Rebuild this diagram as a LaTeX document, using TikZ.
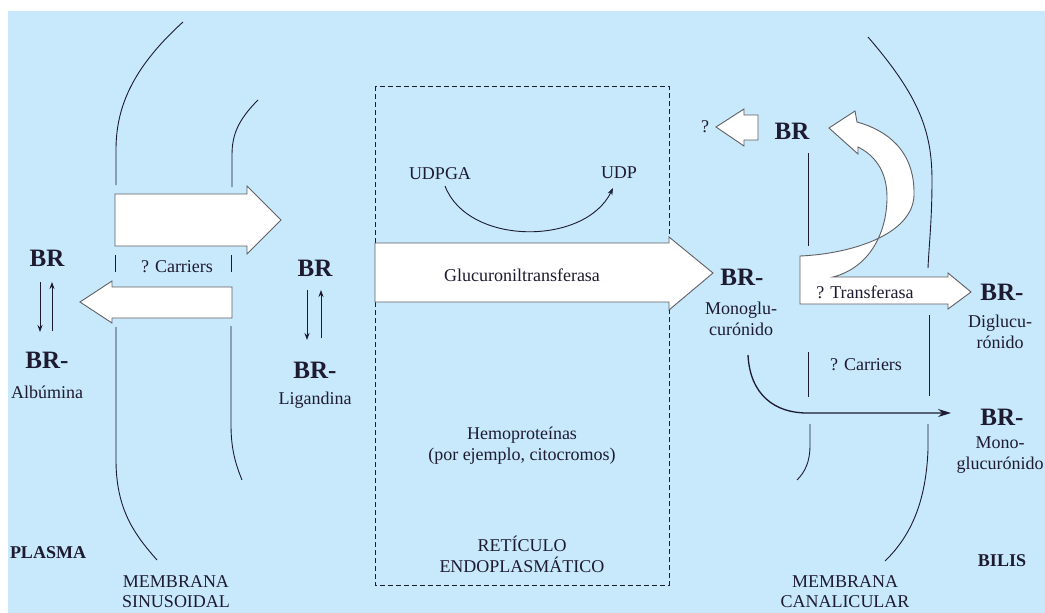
\documentclass[tikz,border=0pt]{standalone}
\usepackage{fontspec}
\setmainfont{Liberation Serif}
\usetikzlibrary{arrows.meta}
\definecolor{bg}{RGB}{199,233,251}
\definecolor{ink}{RGB}{30,26,48}
\definecolor{edge}{RGB}{95,95,100}
\begin{document}
\begin{tikzpicture}[x=1pt,y=-1pt,
  every node/.style={text=ink, inner sep=0pt},
  small/.style={font=\fontsize{18}{21}\selectfont, align=center},
  bottomlbl/.style={font=\fontsize{18}{20}\selectfont, align=center},
  big/.style={font=\fontsize{25}{27}\selectfont\bfseries},
  lbl/.style={font=\fontsize{18}{21}\selectfont\bfseries},
  membr/.style={draw=ink, line width=0.9pt},
  blockarrow/.style={draw=edge, fill=white, line width=0.9pt, line join=miter},
  thinarrow/.style={draw=ink, line width=0.9pt, -{Stealth[length=7pt,width=5pt]}},
  longarrow/.style={draw=ink, line width=1.3pt, -{Stealth[length=13pt,width=8pt]}}]
\useasboundingbox (0,0) rectangle (1045,613);
\fill[bg] (8,11) rectangle (1045,613);

% ---------- sinusoidal membrane ----------
\draw[membr] (183,22) .. controls (130,70) and (116,110) .. (116,150) -- (116,185);
\draw[membr] (258,100) .. controls (238,120) and (232,135) .. (232,155) -- (232,187);
\draw[membr] (115,255) -- (115,272);
\draw[membr] (231,255) -- (231,272);
\draw[membr] (116,327) -- (116,460) .. controls (116,510) and (135,535) .. (157,560);
\draw[membr] (231,326) -- (231,425) .. controls (231,450) and (236,465) .. (242,480);

\draw[blockarrow] (115,194) -- (247,194) -- (247,186) -- (281,220) -- (247,254) -- (247,246) -- (115,246) -- cycle;
\draw[blockarrow] (232,287) -- (112,287) -- (112,281) -- (80,302) -- (112,323) -- (112,318) -- (232,318) -- cycle;
\node[small] (carrL) at (177,267) {? Carriers};

% ---------- plasma side ----------
\node[big] (brL) at (47,258) {BR};
\node[big] (brLm) at (47,360) {BR-};
\node[small] (alb) at (47,392) {Albúmina};
\coordinate (aL1) at (40,282); \coordinate (aL2) at (40,332);
\coordinate (aL3) at (52,331); \coordinate (aL4) at (52,282);
\draw[thinarrow] (aL1) -- (aL2);
\draw[thinarrow] (aL3) -- (aL4);
\node[lbl] (plasma) at (48,553) {PLASMA};
\node[bottomlbl] (msin) at (176,592) {MEMBRANA\\SINUSOIDAL};

% ---------- ligandina ----------
\node[big] (brM) at (315,268) {BR};
\node[big] (brMm) at (315,370) {BR-};
\node[small] (lig) at (315,400) {Ligandina};
\coordinate (aM1) at (307,290); \coordinate (aM2) at (307,340);
\coordinate (aM3) at (321,338); \coordinate (aM4) at (321,290);
\draw[thinarrow] (aM1) -- (aM2);
\draw[thinarrow] (aM3) -- (aM4);

% ---------- reticulo endoplasmatico ----------
\draw[ink, line width=0.9pt, dash pattern=on 5pt off 3pt] (375,86) rectangle (669,585);
\node[small] (udpga) at (440,174) {UDPGA};
\node[small] (udp) at (619,173) {UDP};
\coordinate (uA) at (445,186); \coordinate (uB) at (613,188);
\draw[thinarrow] (uA) .. controls (468,246) and (585,246) .. (uB);
\draw[blockarrow] (375,243) -- (669,243) -- (669,237) -- (713,273) -- (669,310) -- (669,302) -- (375,302) -- cycle;
\node[small] (gluc) at (522,275) {Glucuroniltransferasa};
\node[small] (hemo) at (522,446) {Hemoproteínas\\(por ejemplo, citocromos)};
\node[small] (ret) at (522,554) {RETÍCULO\\ENDOPLASMÁTICO};

% ---------- canalicular side ----------
\node[big] (brR) at (742,277) {BR-};
\node[small] (monoglu) at (741,319) {Monoglu-\\curónido};

\draw[membr] (808,153) -- (808,246);
\draw[membr] (808,352) -- (808,397);
\draw[membr] (810,424) -- (810,445) .. controls (810,462) and (805,472) .. (797,480);
\draw[membr] (868,37) .. controls (918,95) and (932,130) .. (932,180) .. controls (932,220) and (929,245) .. (928,268);
\draw[membr] (929,315) -- (929,396);
\draw[membr] (928,424) -- (928,450) .. controls (926,500) and (912,535) .. (885,561);

\draw[blockarrow] (758,115) -- (744,115) -- (744,109) -- (716,127) -- (744,146) -- (744,140) -- (758,140) -- cycle;
\node[small] (q) at (705,127) {?};
\node[big] (brT) at (792,131) {BR};

\draw[blockarrow] (800,304) -- (800,256)
  .. controls (850,254) and (913,235) .. (914,195)
  .. controls (915,150) and (886,130) .. (857,122)
  -- (855,111) -- (829,128) -- (858,154) -- (858,147)
  .. controls (878,157) and (887,175) .. (887,197)
  .. controls (887,235) and (868,268) .. (833,277)
  -- (948,277) -- (948,273) -- (971,292) -- (948,309) -- (948,304) -- cycle;
\node[small] (transf) at (865,292) {? Transferasa};

\node[big] (brDi) at (1002,292) {BR-};
\node[small] (digl) at (1000,332) {Diglucu-\\rónido};
\node[small] (carrR) at (866,365) {? Carriers};

\coordinate (lA) at (748,355); \coordinate (lB) at (807,413); \coordinate (lC) at (951,413);
\draw[longarrow] (lA) .. controls (750,395) and (775,413) .. (lB) -- (lC);
\node[big] (brMo) at (1002,417) {BR-};
\node[small] (monog) at (1000,455) {Mono-\\glucurónido};
\node[lbl] (bilis) at (1002,561) {BILIS};
\node[bottomlbl] (mcan) at (845,592) {MEMBRANA\\CANALICULAR};
\end{tikzpicture}
\end{document}
